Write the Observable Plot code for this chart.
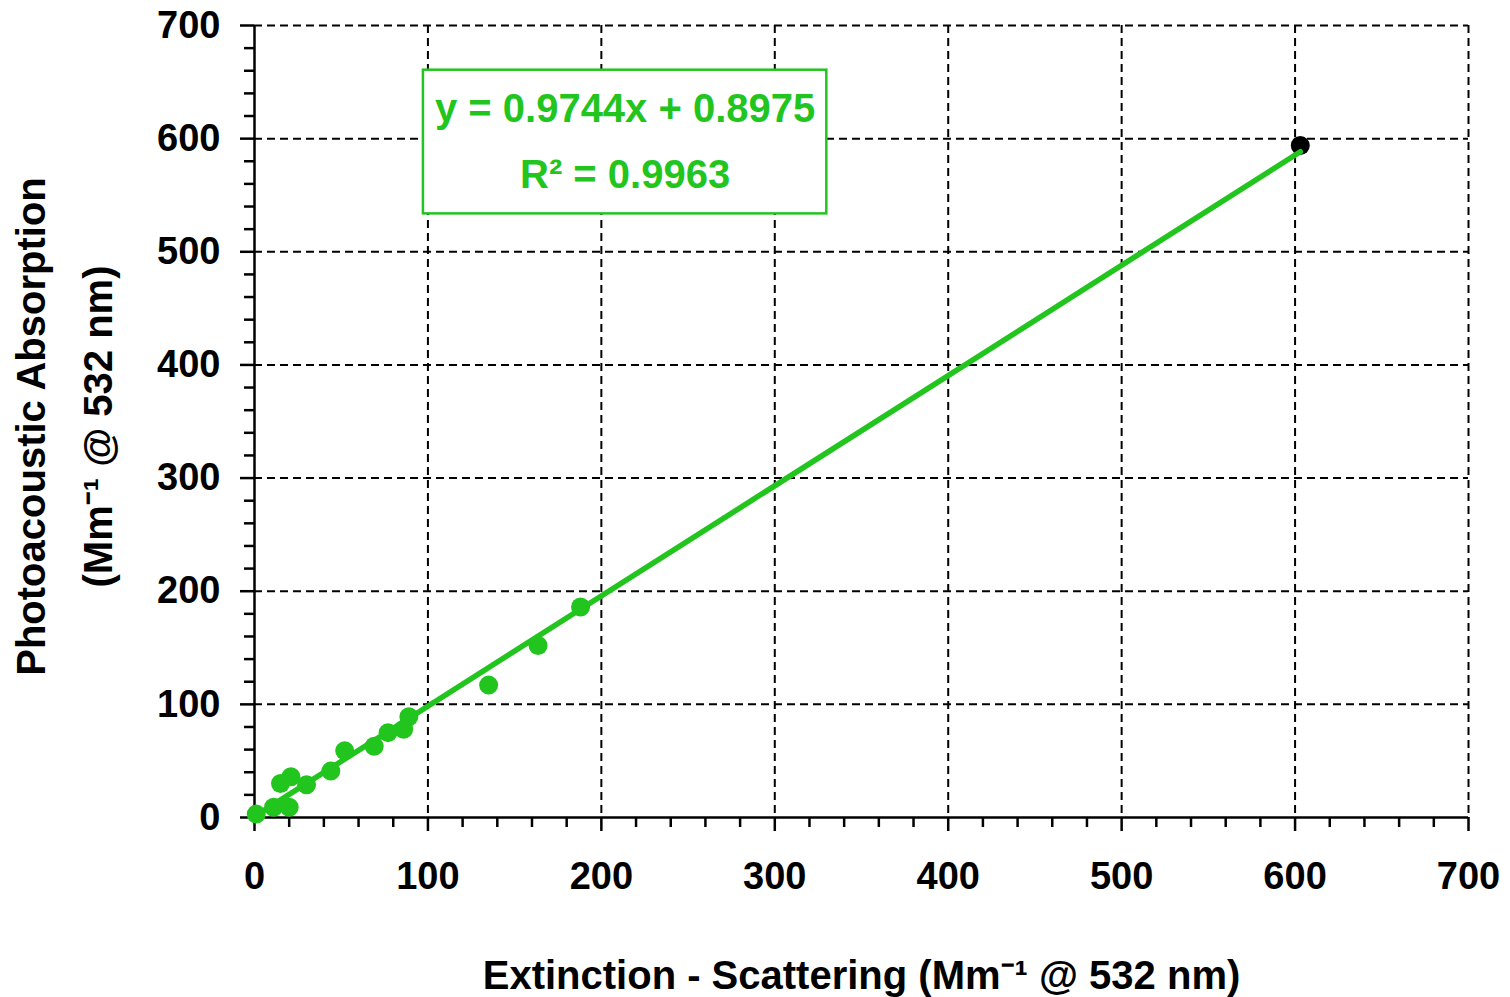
<!DOCTYPE html>
<html>
<head>
<meta charset="utf-8">
<script src="https://cdn.jsdelivr.net/npm/d3@7"></script>
<script src="https://cdn.jsdelivr.net/npm/@observablehq/plot@0.6"></script>
<style>
  html, body { margin: 0; padding: 0; background: #fff; }
  #chart svg { display: block; }
</style>
</head>
<body>
<div id="chart"></div>
<script>
// ---- data ----
const extinctionMinusScattering = [1, 11, 20, 15, 21, 30, 44, 52, 69, 77, 86, 89, 135, 163.5, 188];
const photoacousticAbsorption   = [3,  9,  9, 30, 36, 29, 41, 59, 63, 75, 78, 89, 117, 152, 186];
const highPointX = [603];
const highPointY = [594];
const fitSlope = 0.9744;
const fitIntercept = 0.8975;
const fitR2 = 0.9963;
const xTicks = [0, 100, 200, 300, 400, 500, 600, 700];
const yTicks = [0, 100, 200, 300, 400, 500, 600, 700];
const xMinorTicks = d3.range(0, 701, 20).filter(d => d % 100 !== 0);
const yMinorTicks = d3.range(0, 701, 20).filter(d => d % 100 !== 0);
const xLabel = "Extinction - Scattering (Mm\u207B\u00B9 @ 532 nm)";
const yLabel = "Photoacoustic Absorption\n(Mm\u207B\u00B9 @ 532 nm)";
const eqLine1 = `y = ${fitSlope}x + ${fitIntercept}`;
const eqLine2 = `R\u00B2 = ${fitR2}`;

// ---- derived ----
const green = "#22c51e";
const fitXs = [0, d3.max(highPointX)];
const fitYs = fitXs.map(x => fitSlope * x + fitIntercept);
// annotation box in data units
const box = [{x1: 97.4, x2: 330, y1: 533.5, y2: 660.5}];
const boxCx = (box[0].x1 + box[0].x2) / 2;

const font = "'Liberation Sans', Arial, Helvetica, sans-serif";

const chart = Plot.plot({
  width: 1510,
  height: 997,
  marginLeft: 254,
  marginRight: 42,
  marginTop: 25,
  marginBottom: 180,
  style: {fontFamily: font, fontWeight: "bold", fontSize: "38px", background: "#fff", color: "#000", overflow: "visible"},
  x: {domain: [0, 700], axis: null},
  y: {domain: [0, 700], axis: null},
  marks: [
    Plot.gridX(xTicks.filter(d => d > 0), {stroke: "#000", strokeOpacity: 1, strokeWidth: 2, strokeDasharray: "8,5"}),
    Plot.gridY(yTicks.filter(d => d > 0), {stroke: "#000", strokeOpacity: 1, strokeWidth: 2, strokeDasharray: "8,5"}),
    // annotation box
    Plot.rect(box, {x1: "x1", x2: "x2", y1: "y1", y2: "y2", fill: "#fff", stroke: green, strokeWidth: 2.5}),
    Plot.text([eqLine1], {x: boxCx, y: 626, text: d => d, fill: green, fontSize: 40, fontWeight: "bold", textAnchor: "middle", lineAnchor: "middle"}),
    Plot.text([eqLine2], {x: boxCx, y: 567.5, text: d => d, fill: green, fontSize: 40, fontWeight: "bold", textAnchor: "middle", lineAnchor: "middle"}),
    // axes lines
    Plot.ruleY([0], {stroke: "#000", strokeWidth: 2.5}),
    Plot.ruleX([0], {stroke: "#000", strokeWidth: 2.5}),
    Plot.axisX(xTicks, {anchor: "bottom", tickSize: 14, tickPadding: 31, fontSize: 38, fontWeight: "bold", strokeWidth: 2.5, label: null}),
    Plot.axisX(xMinorTicks, {anchor: "bottom", tickSize: 10, text: null, strokeWidth: 2.5, label: null}),
    Plot.axisY(yTicks, {anchor: "left", tickSize: 14, tickPadding: 20, fontSize: 38, fontWeight: "bold", strokeWidth: 2.5, label: null}),
    Plot.axisY(yMinorTicks, {anchor: "left", tickSize: 10, text: null, strokeWidth: 2.5, label: null}),
    // data
    Plot.dot(highPointX, {x: highPointX, y: highPointY, r: 9.5, fill: "#000"}),
    Plot.line(fitXs, {x: fitXs, y: fitYs, stroke: green, strokeWidth: 5.5}),
    Plot.dot(extinctionMinusScattering, {x: extinctionMinusScattering, y: photoacousticAbsorption, r: 9.5, fill: green}),
    // axis titles
    Plot.text([xLabel], {frameAnchor: "bottom", dy: 159, text: d => d, fontSize: 40, fontWeight: "bold", textAnchor: "middle", lineAnchor: "middle", fill: "#000"}),
    Plot.text([yLabel], {frameAnchor: "left", dx: -197, dy: 5, rotate: -90, text: d => d, fontSize: 40, fontWeight: "bold", textAnchor: "middle", lineAnchor: "middle", lineHeight: 1.675, fill: "#000"})
  ]
});
document.getElementById("chart").appendChild(chart);
</script>
</body>
</html>
